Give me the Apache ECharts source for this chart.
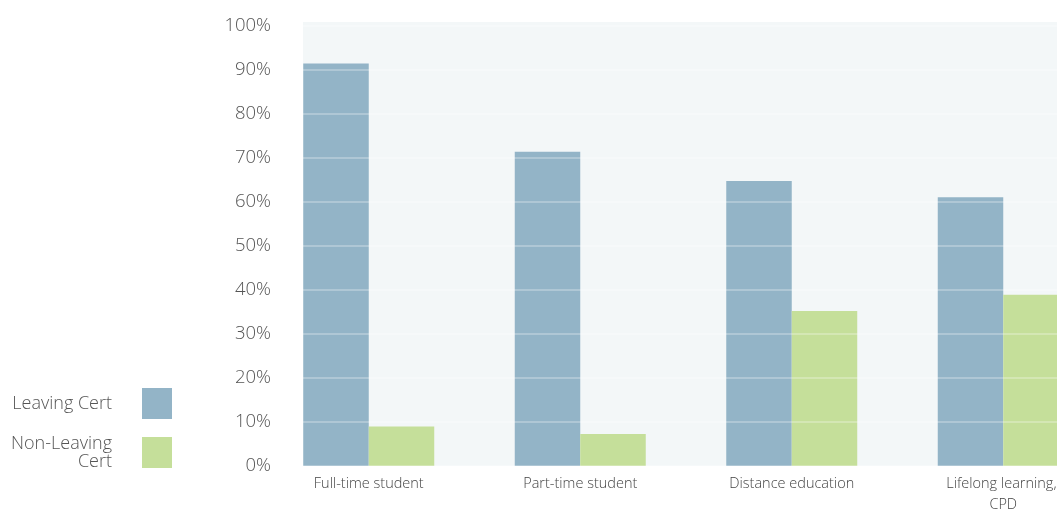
<!DOCTYPE html>
<html>
<head>
<meta charset="utf-8">
<script src="https://cdn.jsdelivr.net/npm/echarts@6/dist/echarts.min.js"></script>
<style>
  html, body { margin: 0; padding: 0; background: #ffffff; }
  #chart { width: 1057px; height: 510px; }
</style>
</head>
<body>
<div id="chart"></div>
<script>
// Share of learners by entry route, per mode of study (percent)
const categories = ['Full-time student', 'Part-time student', 'Distance education', 'Lifelong learning, CPD'];
const leavingCert = [91.5, 71.4, 64.8, 61.1];
const nonLeavingCert = [9.0, 7.3, 35.2, 38.9];
const seriesNames = ['Leaving Cert', 'Non-Leaving\nCert'];
const yTicks = { min: 0, max: 100, interval: 10 };

const FONT = '"Open Sans", Lato, sans-serif';
const BLUE = '#93b4c7';
const GREEN = '#c5df9a';

const chart = echarts.init(document.getElementById('chart'), null, { renderer: 'canvas' });

chart.setOption({
  animation: false,
  backgroundColor: '#ffffff',
  textStyle: { fontFamily: FONT },
  graphic: [{
    type: 'rect',
    left: 303,
    top: 22,
    z: -1,
    shape: { width: 760, height: 444 },
    style: { fill: '#f3f7f8' }
  }],
  legend: {
    orient: 'vertical',
    align: 'right',
    right: 885,
    top: 388,
    padding: 0,
    itemWidth: 30,
    itemHeight: 31,
    itemGap: 15.5,
    icon: 'rect',
    selectedMode: false,
    textStyle: {
      fontFamily: FONT,
      fontWeight: 300,
      fontSize: 18,
      lineHeight: 18,
      color: '#555555',
      padding: [0, 25, 0, 0]
    },
    data: seriesNames
  },
  grid: {
    left: 263,
    top: 26,
    width: 846,
    height: 440,
    containLabel: false,
    outerBoundsMode: 'none'
  },
  xAxis: {
    type: 'category',
    data: categories,
    axisLine: { show: false },
    axisTick: { show: false },
    axisLabel: {
      fontFamily: FONT,
      fontWeight: 300,
      fontSize: 14.5,
      lineHeight: 21,
      color: '#444444',
      margin: 7,
      width: 130,
      overflow: 'break',
      interval: 0
    }
  },
  yAxis: {
    type: 'value',
    min: yTicks.min,
    max: yTicks.max,
    interval: yTicks.interval,
    offset: -40,
    z: 5,
    axisLine: { show: false },
    axisTick: { show: false },
    axisLabel: {
      fontFamily: FONT,
      fontWeight: 300,
      fontSize: 18.5,
      color: '#555555',
      margin: 32,
      formatter: '{value}%'
    },
    splitLine: {
      show: true,
      lineStyle: { color: 'rgba(255,255,255,0.35)', width: 1.5 }
    }
  },
  series: [
    {
      name: seriesNames[0],
      type: 'bar',
      data: leavingCert,
      barWidth: 65.5,
      barGap: 0,
      itemStyle: { color: BLUE }
    },
    {
      name: seriesNames[1],
      type: 'bar',
      data: nonLeavingCert,
      barWidth: 65.5,
      barGap: 0,
      itemStyle: { color: GREEN }
    }
  ]
});
</script>
</body>
</html>
